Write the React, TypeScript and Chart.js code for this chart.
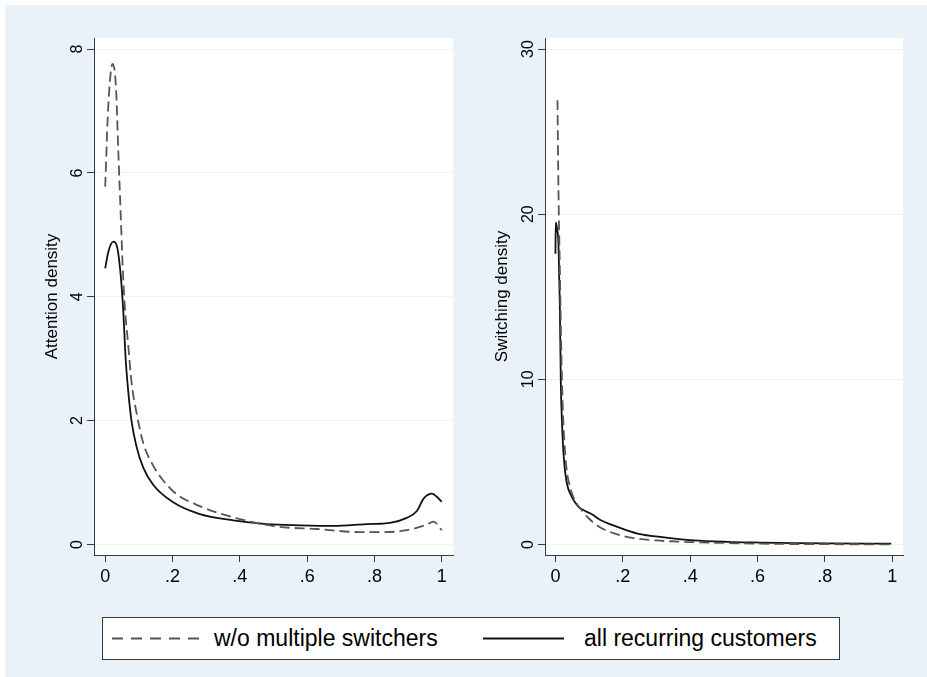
import React, { useEffect, useRef } from "react";
import { Chart, registerables } from "chart.js";

Chart.register(...registerables);

// ---------------- data ----------------
const xTickValues = [0, 0.2, 0.4, 0.6, 0.8, 1];
const xTickLabels = ["0", ".2", ".4", ".6", ".8", "1"];

const attentionTicks = [0, 2, 4, 6, 8];
const attentionTickLabels = ["0", "2", "4", "6", "8"];
const switchingTicks = [0, 10, 20, 30];
const switchingTickLabels = ["0", "10", "20", "30"];

const seriesNames = ["w/o multiple switchers", "all recurring customers"];

// Attention panel
const attnDashedX = [0, 0.009, 0.022, 0.032, 0.039, 0.046, 0.052, 0.058, 0.068, 0.078, 0.093, 0.113, 0.143, 0.202, 0.281, 0.4, 0.509, 0.628, 0.757, 0.827, 0.896, 0.955, 0.975, 1.0];
const attnDashedY = [5.78, 7.07, 7.76, 7.38, 6.33, 5.34, 4.48, 3.86, 3.24, 2.63, 2.13, 1.64, 1.27, 0.86, 0.62, 0.41, 0.29, 0.25, 0.2, 0.2, 0.23, 0.32, 0.37, 0.23];
const attnSolidX = [0, 0.009, 0.024, 0.036, 0.046, 0.054, 0.06, 0.068, 0.078, 0.093, 0.113, 0.143, 0.202, 0.281, 0.381, 0.48, 0.579, 0.678, 0.777, 0.846, 0.896, 0.926, 0.946, 0.971, 0.985, 1.0];
const attnSolidY = [4.46, 4.72, 4.89, 4.79, 4.35, 3.74, 3.06, 2.5, 2.0, 1.58, 1.24, 0.96, 0.68, 0.49, 0.39, 0.33, 0.31, 0.3, 0.33, 0.35, 0.43, 0.54, 0.74, 0.82, 0.77, 0.69];

// Switching panel
const swDashedX = [0.006, 0.009, 0.013, 0.017, 0.021, 0.026, 0.033, 0.043, 0.058, 0.078, 0.097, 0.132, 0.172, 0.232, 0.311, 0.41, 0.51, 0.61, 0.71, 0.81, 0.997];
const swDashedY = [26.9, 21.4, 16.8, 12.2, 8.7, 6.4, 4.6, 3.5, 2.66, 2.08, 1.62, 1.04, 0.69, 0.39, 0.23, 0.14, 0.09, 0.05, 0.03, 0.02, 0.01];
const swSolidX = [0, 0.001, 0.005, 0.009, 0.013, 0.016, 0.02, 0.025, 0.033, 0.048, 0.068, 0.087, 0.107, 0.132, 0.172, 0.212, 0.251, 0.311, 0.41, 0.51, 0.61, 0.71, 0.81, 0.997];
const swSolidY = [17.6, 19.5, 19.1, 18.2, 14.5, 9.8, 7.1, 5.2, 3.8, 2.9, 2.3, 2.04, 1.85, 1.5, 1.16, 0.86, 0.63, 0.46, 0.25, 0.16, 0.12, 0.09, 0.07, 0.05];

// ---------------- styling ----------------
const FONT = '"Liberation Sans", Arial, sans-serif';
const BG = "#EAF2F9";
const GRID = "#EDF4F6";
const AXIS = "#3a3a3a";
const DASH_COLOR = "#555555";
const SOLID_COLOR = "#111111";

const toPoints = (xs: number[], ys: number[]) => xs.map((x, i) => ({ x, y: ys[i] }));

const plotBgPlugin = {
  id: "plotBg",
  beforeDraw(chart: any) {
    const { ctx, chartArea } = chart;
    ctx.save();
    ctx.fillStyle = "#ffffff";
    ctx.fillRect(chartArea.left, chartArea.top, chartArea.right - chartArea.left, chartArea.bottom - chartArea.top);
    ctx.restore();
  },
};

const yLabelPlugin = {
  id: "yLabels",
  afterDraw(chart: any, _args: any, opts: any) {
    const { ctx } = chart;
    const ys = chart.scales.y;
    ctx.save();
    ctx.font = `${opts.size}px ${FONT}`;
    ctx.fillStyle = "#000";
    ctx.textAlign = "center";
    ctx.textBaseline = "alphabetic";
    opts.values.forEach((v: number, i: number) => {
      const y = ys.getPixelForValue(v);
      ctx.save();
      ctx.translate(chart.chartArea.left - opts.gap, y);
      ctx.rotate(-Math.PI / 2);
      ctx.fillText(opts.labels[i], 0, 0);
      ctx.restore();
    });
    ctx.restore();
  },
};

type PanelProps = {
  left: number;
  top: number;
  width: number;
  height: number;
  yAxisWidth: number;
  yTitle: string;
  yTicks: number[];
  yTickLabels: string[];
  yMin: number;
  yMax: number;
  xMin: number;
  xMax: number;
  dashedX: number[];
  dashedY: number[];
  solidX: number[];
  solidY: number[];
};

function Panel(p: PanelProps) {
  const ref = useRef<HTMLCanvasElement>(null);
  useEffect(() => {
    if (!ref.current) return;
    const chart = new Chart(ref.current, {
      type: "line",
      data: {
        datasets: [
          {
            label: seriesNames[0],
            data: toPoints(p.dashedX, p.dashedY),
            borderColor: DASH_COLOR,
            borderWidth: 1.8,
            borderDash: [10, 5],
            pointRadius: 0,
            cubicInterpolationMode: "monotone",
            fill: false,
          },
          {
            label: seriesNames[1],
            data: toPoints(p.solidX, p.solidY),
            borderColor: SOLID_COLOR,
            borderWidth: 1.8,
            pointRadius: 0,
            cubicInterpolationMode: "monotone",
            fill: false,
          },
        ],
      },
      options: {
        responsive: false,
        animation: false,
        events: [],
        layout: { padding: { top: 8, right: 7, left: 0, bottom: 0 } },
        plugins: {
          legend: { display: false },
          tooltip: { enabled: false },
          yLabels: { values: p.yTicks, labels: p.yTickLabels, size: 16, gap: 12 },
        } as any,
        scales: {
          x: {
            type: "linear",
            min: p.xMin,
            max: p.xMax,
            afterBuildTicks: (s: any) => {
              s.ticks = xTickValues.map((v) => ({ value: v }));
            },
            afterFit: (s: any) => {
              s.height = 45;
            },
            ticks: {
              callback: (_v: any, i: number) => xTickLabels[i],
              font: { family: FONT, size: 18 },
              color: "#000",
              padding: 4,
              maxRotation: 0,
              minRotation: 0,
            },
            grid: {
              drawOnChartArea: false,
              drawTicks: true,
              tickLength: 7,
              tickColor: AXIS,
              tickWidth: 1,
            },
            border: { display: true, color: AXIS, width: 1 },
          },
          y: {
            type: "linear",
            min: p.yMin,
            max: p.yMax,
            afterBuildTicks: (s: any) => {
              s.ticks = p.yTicks.map((v) => ({ value: v }));
            },
            afterFit: (s: any) => {
              s.width = p.yAxisWidth;
            },
            ticks: { display: false },
            grid: {
              color: GRID,
              lineWidth: 1,
              drawTicks: true,
              tickLength: 7,
              tickColor: AXIS,
              tickWidth: 1,
            },
            border: { display: true, color: AXIS, width: 1 },
            title: {
              display: true,
              text: p.yTitle,
              font: { family: FONT, size: 17 },
              color: "#000",
              padding: { top: 12, bottom: 0 },
            },
          },
        },
      },
      plugins: [plotBgPlugin, yLabelPlugin],
    });
    return () => chart.destroy();
  }, []);
  return (
    <canvas
      ref={ref}
      width={p.width}
      height={p.height}
      style={{ position: "absolute", left: p.left, top: p.top, width: p.width, height: p.height }}
    />
  );
}

function Legend() {
  const textStyle: React.CSSProperties = {
    position: "absolute",
    top: 0,
    height: 40,
    lineHeight: "40px",
    fontFamily: FONT,
    fontSize: 23,
    color: "#000",
    whiteSpace: "nowrap",
  };
  return (
    <div
      style={{
        position: "absolute",
        left: 102,
        top: 617,
        width: 738,
        height: 43,
        boxSizing: "border-box",
        border: `1px solid ${AXIS}`,
        background: "#fff",
      }}
    >
      <svg width={736} height={41} style={{ position: "absolute", left: 0, top: 0 }}>
        <line x1={9} y1={20.5} x2={97} y2={20.5} stroke={DASH_COLOR} strokeWidth={2} strokeDasharray="11 8" />
        <line x1={380} y1={20.5} x2={461} y2={20.5} stroke={SOLID_COLOR} strokeWidth={2} />
      </svg>
      <span style={{ ...textStyle, left: 111 }}>{seriesNames[0]}</span>
      <span style={{ ...textStyle, left: 481 }}>{seriesNames[1]}</span>
    </div>
  );
}

export default function App() {
  useEffect(() => {
    document.body.style.margin = "0";
  }, []);
  return (
    <div style={{ position: "absolute", left: 0, top: 0, width: 927, height: 677, background: "#fff", overflow: "hidden" }}>
      <div style={{ position: "absolute", left: 5, top: 5, right: 0, bottom: 0, background: BG }} />
      <Panel
        left={30}
        top={30}
        width={430}
        height={570}
        yAxisWidth={64}
        yTitle="Attention density"
        yTicks={attentionTicks}
        yTickLabels={attentionTickLabels}
        yMin={-0.17}
        yMax={8.18}
        xMin={-0.0333}
        xMax={1.0333}
        dashedX={attnDashedX}
        dashedY={attnDashedY}
        solidX={attnSolidX}
        solidY={attnSolidY}
      />
      <Panel
        left={480}
        top={30}
        width={430}
        height={570}
        yAxisWidth={65}
        yTitle="Switching density"
        yTicks={switchingTicks}
        yTickLabels={switchingTickLabels}
        yMin={-0.635}
        yMax={30.67}
        xMin={-0.031}
        xMax={1.032}
        dashedX={swDashedX}
        dashedY={swDashedY}
        solidX={swSolidX}
        solidY={swSolidY}
      />
      <Legend />
    </div>
  );
}
